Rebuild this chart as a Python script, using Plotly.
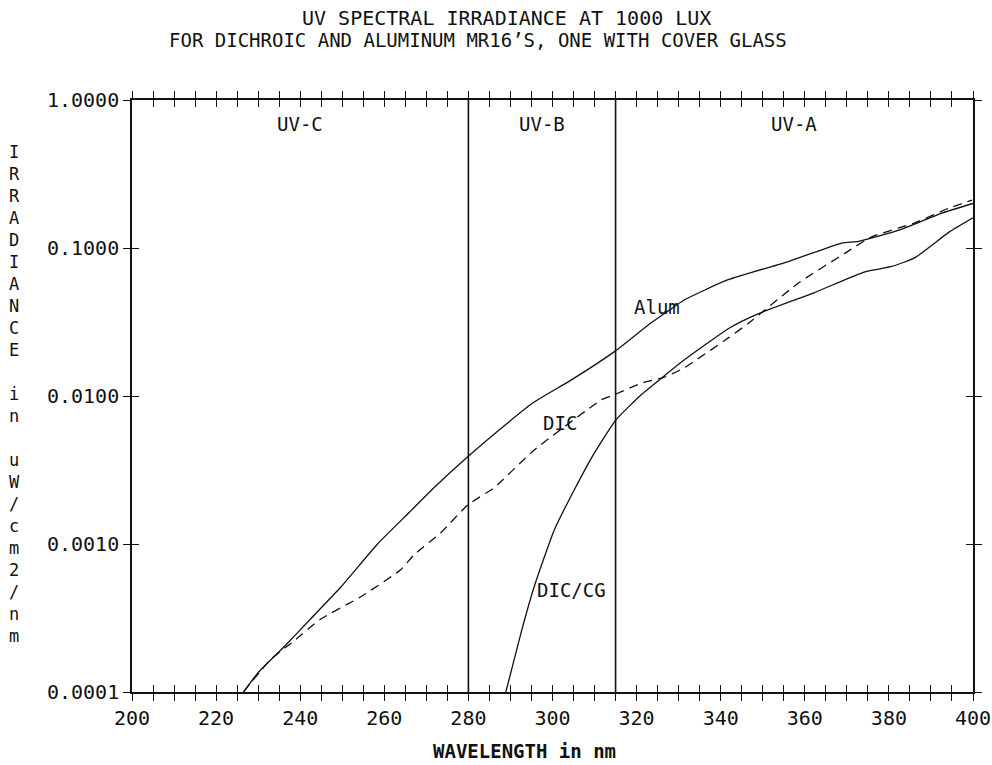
import math
import plotly.graph_objects as go

# ---------------- data ----------------
alum_nm = [226.5, 230.0, 236.0, 242.4, 249.6, 258.4, 265.6, 271.8, 279.9, 289.4,
           295.6, 304.4, 314.9, 323.3, 327.2, 331.3, 341.6, 356.1, 368.8,
           372.8, 382.4, 392.6, 400.0]
alum_irr = [1.0e-4, 1.35e-4, 2.0e-4, 3.1e-4, 5.1e-4, 1.0e-3, 1.6e-3, 2.4e-3, 3.9e-3, 6.6e-3,
            9.1e-3, 0.0128, 0.0201, 0.031, 0.037, 0.0445, 0.0608, 0.081, 0.108,
            0.111, 0.132, 0.172, 0.200]

dic_nm = [226.5, 232.9, 238.4, 244.8, 254.4, 263.9, 267.0, 273.4, 279.9, 286.1,
          295.6, 311.6, 314.7, 321.1, 326.6, 331.3, 341.8, 346.6, 358.5, 369.5,
          375.9, 386.2, 394.3, 399.8]
dic_irr = [1.0e-4, 1.65e-4, 2.2e-4, 3.1e-4, 4.4e-4, 6.7e-4, 8.4e-4, 1.19e-3, 1.84e-3, 2.4e-3,
           4.3e-3, 9.4e-3, 0.0102, 0.0122, 0.0134, 0.0155, 0.0247, 0.031, 0.058, 0.092,
           0.119, 0.148, 0.186, 0.211]

diccg_nm = [288.9, 292.5, 295.6, 300.4, 305.1, 309.9, 315.1, 321.1, 325.9, 331.3,
            342.1, 349.0, 362.3, 374.3, 380.7, 386.2, 394.3, 400.0]
diccg_irr = [1.0e-4, 2.5e-4, 5.1e-4, 1.24e-3, 2.3e-3, 4.1e-3, 6.9e-3, 0.0102, 0.0132, 0.0175,
             0.0288, 0.036, 0.050, 0.069, 0.075, 0.086, 0.128, 0.160]

band_edges = [200, 280, 315, 400]
band_names = ["UV-C", "UV-B", "UV-A"]

x_ticks = list(range(200, 401, 5))
x_labels = [str(v) if v % 20 == 0 else "" for v in x_ticks]
y_ticks = [1e-4, 1e-3, 1e-2, 1e-1, 1.0]
y_labels = ["0.0001", "0.0010", "0.0100", "0.1000", "1.0000"]

curve_labels = [("Alum", 324.9, 0.040), ("DIC", 301.8, 0.0066), ("DIC/CG", 304.6, 4.9e-4)]

title_lines = ["UV SPECTRAL IRRADIANCE AT 1000 LUX",
               "FOR DICHROIC AND ALUMINUM MR16\u2019S, ONE WITH COVER GLASS"]
y_title = "IRRADIANCE in uW/cm2/nm"
x_title = "WAVELENGTH in nm"

# ---------------- figure ----------------
FONT = "DejaVu Sans Mono"
INK = "#111111"
W, H = 992, 765
ML, MR, MT, MB = 132, 992 - 973, 100, 765 - 692
PH = H - MT - MB
PW = W - ML - MR


def px(xpix):
    return (xpix - ML) / PW


def py(ypix):
    return (H - MB - ypix) / PH


fig = go.Figure()
fig.add_trace(go.Scatter(x=alum_nm, y=alum_irr, mode="lines", name="Alum",
                         line=dict(color=INK, width=1.3, shape="spline", smoothing=0.5)))
fig.add_trace(go.Scatter(x=dic_nm, y=dic_irr, mode="lines", name="DIC",
                         line=dict(color=INK, width=1.3, dash="9px,6px", shape="spline", smoothing=0.5)))
fig.add_trace(go.Scatter(x=diccg_nm, y=diccg_irr, mode="lines", name="DIC/CG",
                         xaxis="x2", yaxis="y2",
                         line=dict(color=INK, width=1.3, shape="spline", smoothing=0.5)))

# band boundary lines
for e in band_edges[1:-1]:
    fig.add_shape(type="line", x0=e, x1=e, xref="x", yref="paper", y0=0, y1=1,
                  line=dict(color=INK, width=1.6))

annotations = []


def note(text, x, y, size, xref="paper", yref="paper"):
    annotations.append(dict(x=x, y=y, xref=xref, yref=yref, text=text, showarrow=False,
                            xanchor="center", yanchor="middle",
                            font=dict(family=FONT, size=size, color=INK)))


# band names
for i, name in enumerate(band_names):
    note(name, (band_edges[i] + band_edges[i + 1]) / 2, py(124), 19, xref="x")
# curve labels
for text, xv, yv in curve_labels:
    note(text, xv, math.log10(yv), 19, xref="x", yref="y")
# title lines
note(title_lines[0], px(506), py(18), 20)
note(title_lines[1], px(478), py(40), 19)
# vertical stacked y-axis title
for i, ch in enumerate(y_title):
    if ch != " ":
        note(ch, px(14), py(152 + 22 * i), 17)
# x-axis title
note("<b>" + x_title + "</b>", px(524), py(751), 19)

tickfont = dict(family=FONT, size=20, color=INK)
fig.update_layout(
    width=W, height=H,
    margin=dict(l=ML, r=MR, t=MT, b=MB, autoexpand=False),
    paper_bgcolor="white", plot_bgcolor="white",
    showlegend=False,
    annotations=annotations,
    xaxis=dict(range=[200, 400], tickmode="array", tickvals=x_ticks, ticktext=x_labels,
               ticks="outside", ticklen=7, tickwidth=1.3, tickcolor=INK,
               showline=True, linecolor=INK, linewidth=1.6, mirror="allticks",
               showgrid=False, zeroline=False, tickfont=tickfont, ticklabeloverflow="allow"),
    yaxis=dict(type="log", range=[-4, 0], tickmode="array", tickvals=y_ticks, ticktext=y_labels,
               ticks="outside", ticklen=7, tickwidth=1.3, tickcolor=INK,
               showline=True, linecolor=INK, linewidth=1.6, mirror="allticks",
               showgrid=False, zeroline=False, tickfont=tickfont),
    xaxis2=dict(range=[200, 400], overlaying="x", anchor="y2", tickmode="array", tickvals=x_ticks,
                ticks="inside", ticklen=7, tickwidth=1.3, tickcolor=INK, mirror="allticks",
                showticklabels=False, showline=False, showgrid=False, zeroline=False),
    yaxis2=dict(type="log", range=[-4, 0], overlaying="y", anchor="x2", tickmode="array",
                tickvals=y_ticks, ticks="inside", ticklen=7, tickwidth=1.3, tickcolor=INK,
                mirror="allticks", showticklabels=False, showline=False, showgrid=False,
                zeroline=False),
)

fig.write_html("out.html", config={"displayModeBar": False},
               post_script="document.body.style.margin='0px';document.body.style.overflow='hidden';")
